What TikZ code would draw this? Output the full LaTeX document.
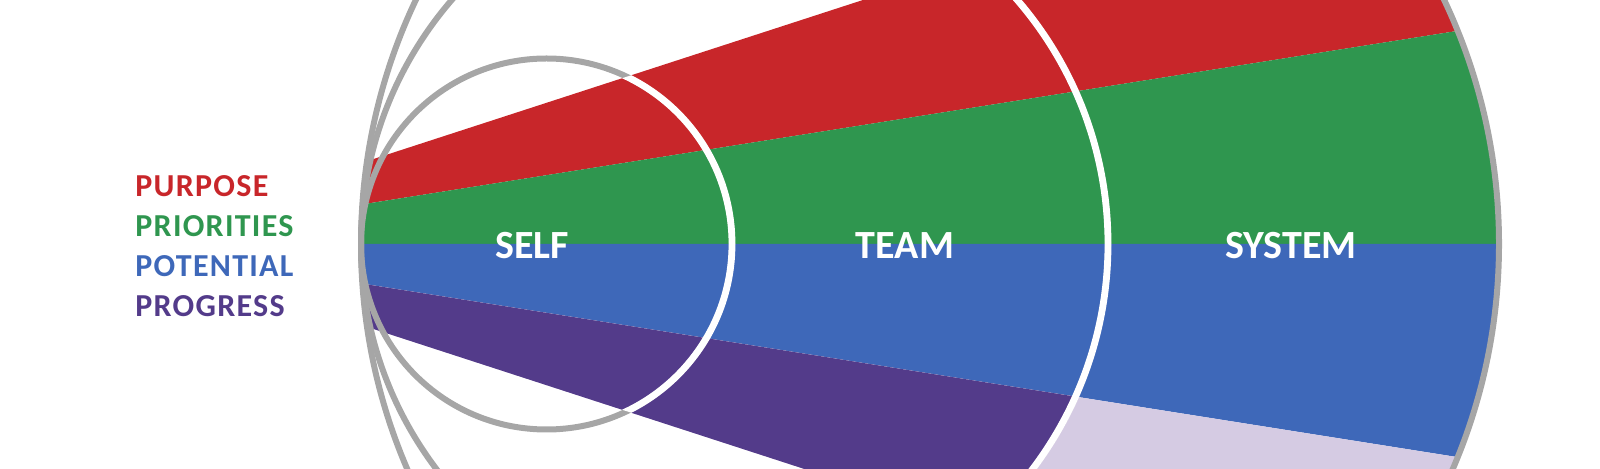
\documentclass[tikz,border=0pt]{standalone}
\usepackage{fontspec}
\setmainfont{Carlito}
\definecolor{ppred}{RGB}{200,38,42}
\definecolor{ppgreen}{RGB}{47,150,79}
\definecolor{ppblue}{RGB}{62,104,185}
\definecolor{pppurple}{RGB}{83,59,138}
\definecolor{pplilac}{RGB}{213,203,227}
\definecolor{ringgrey}{RGB}{166,166,166}
\tikzset{%
  ring/.style = {draw=ringgrey, line width=3pt},
  cut/.style = {draw=white, line width=3.4pt},
  ringlabel/.style = {text=white, inner sep=0pt,
    font=\fontsize{20}{24}\selectfont\bfseries},
  sidelabel/.style = {inner sep=0pt, anchor=base west,
    font=\fontsize{16}{19}\selectfont\bfseries\addfontfeature{LetterSpace=4}}
}

\begin{document}
\begin{tikzpicture}[x=0.5pt,y=-0.5pt]
  \useasboundingbox (0,0) rectangle (1600,469);
  % fan of four bands from one apex
  \coordinate (apex) at (112,244);
  \coordinate (up2) at ([shift={(apex)}]-18:1600);
  \coordinate (up1) at ([shift={(apex)}]-9:1600);
  \coordinate (mid) at ([shift={(apex)}]0:1600);
  \coordinate (dn1) at ([shift={(apex)}]9:1600);
  \coordinate (dn2) at ([shift={(apex)}]18:1600);

  \begin{scope}
    \clip (930,244) circle[radius=569];
    \fill[ppred] (apex) -- (up2) -- (up1) -- cycle;
    \fill[ppgreen] (apex) -- (up1) -- (mid) -- cycle;
    \fill[ppblue] (apex) -- (mid) -- (dn1) -- cycle;
    \fill[pplilac] (apex) -- (dn1) -- (dn2) -- cycle;
    \begin{scope}
      \clip (734.5,244) circle[radius=373.5];
      \fill[pppurple] (apex) -- (dn1) -- (dn2) -- cycle;
    \end{scope}
  \end{scope}

  % the three circles
  \draw[ring] (546.5,244) circle[radius=185.5];
  \draw[ring] (734.5,244) circle[radius=373.5];
  \draw[ring] (930,244) circle[radius=569];

  % white where the circles cross the bands
  \begin{scope}
    \clip (546,0) rectangle (1600,469);
    \clip (apex) -- (up2) -- (dn2) -- cycle;
    \draw[cut] (546.5,244) circle[radius=185.5];
    \draw[cut] (734.5,244) circle[radius=373.5];
  \end{scope}

  \node[ringlabel] (self) at (532,246) {SELF};
  \node[ringlabel] (team) at (905,246) {TEAM};
  \node[ringlabel] (system) at (1291,246) {SYSTEM};

  \node[sidelabel, text=ppred] (purpose) at (135,197) {PURPOSE};
  \node[sidelabel, text=ppgreen] (priorities) at (135,237) {PRIORITIES};
  \node[sidelabel, text=ppblue] (potential) at (135,277) {POTENTIAL};
  \node[sidelabel, text=pppurple] (progress) at (135,317) {PROGRESS};
\end{tikzpicture}
\end{document}
